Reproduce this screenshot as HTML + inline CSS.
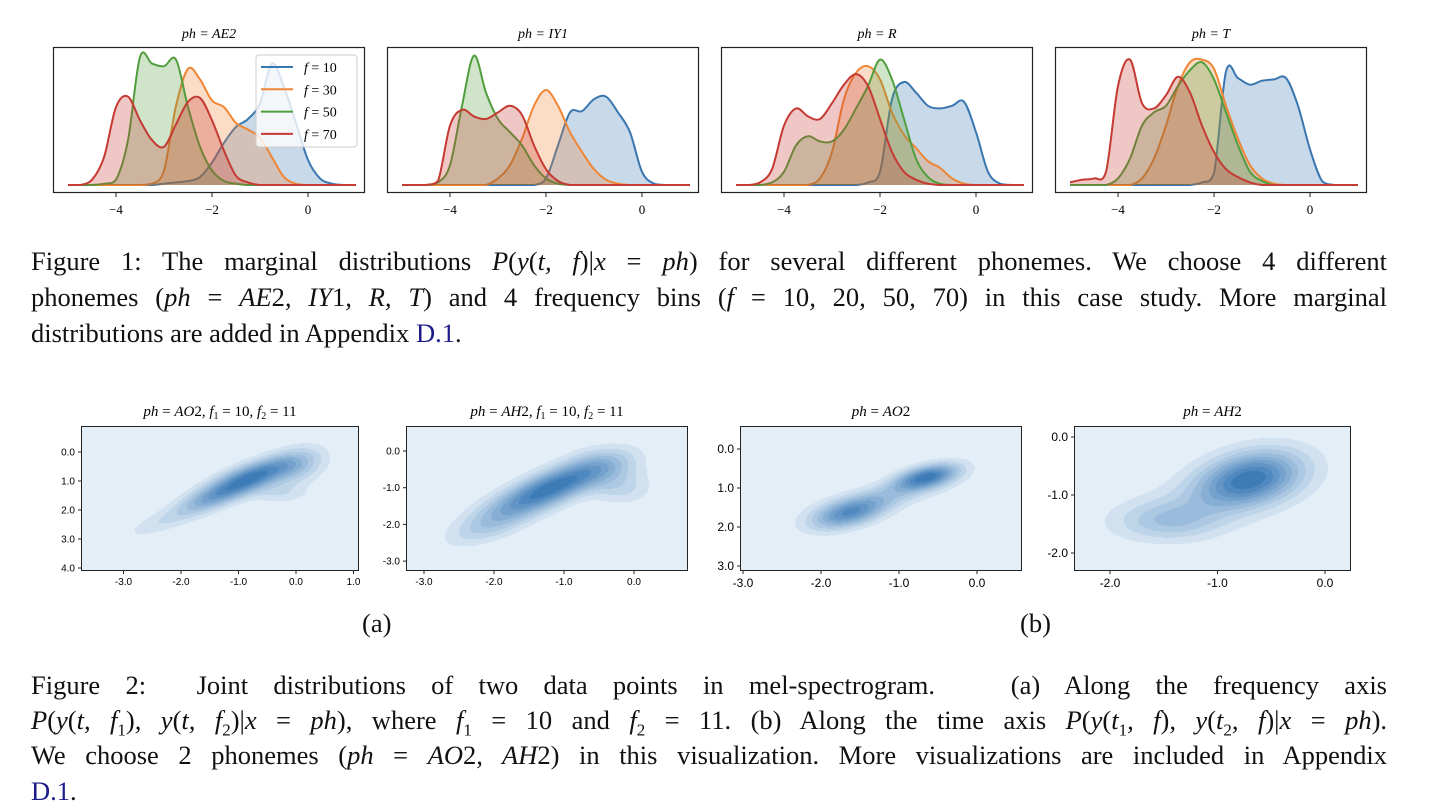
<!DOCTYPE html>
<html><head><meta charset="utf-8">
<style>
html,body{margin:0;padding:0;background:#fff;}
body{width:1430px;height:810px;position:relative;overflow:hidden;font-family:"Liberation Serif",serif;color:#111;}
.cap{position:absolute;left:31px;width:1356px;font-size:26.5px;line-height:30px;white-space:nowrap;}
.j{text-align:justify;text-align-last:justify;white-space:normal;}
.lnk{color:#1a1a8a;}
canvas{position:absolute;}
svg{position:absolute;left:0;top:0;}
sub{font-size:17px;line-height:0;}
</style></head><body>
<canvas id="cva1"></canvas>
<canvas id="cva2"></canvas>
<canvas id="cvb1"></canvas>
<canvas id="cvb2"></canvas>
<svg id="svg" width="1430" height="810"></svg>

<div class="cap j" style="top:246px">Figure 1: The marginal distributions <i>P</i>(<i>y</i>(<i>t, f</i>)|<i>x</i> = <i>ph</i>) for several different phonemes. We choose 4 different</div>
<div class="cap j" style="top:282px">phonemes (<i>ph</i> = <i>AE</i>2<i>, IY</i>1<i>, R, T</i>) and 4 frequency bins (<i>f</i> = 10<i>,</i> 20<i>,</i> 50<i>,</i> 70) in this case study. More marginal</div>
<div class="cap" style="top:318px">distributions are added in Appendix <span class="lnk">D.1</span>.</div>

<div class="cap" style="top:608px;left:362px;width:40px">(a)</div>
<div class="cap" style="top:608px;left:1020px;width:40px">(b)</div>

<div class="cap j" style="top:670px">Figure 2: &nbsp;Joint distributions of two data points in mel-spectrogram. &nbsp;&nbsp;(a) Along the frequency axis</div>
<div class="cap j" style="top:705px"><i>P</i>(<i>y</i>(<i>t, f</i><sub>1</sub>)<i>, y</i>(<i>t, f</i><sub>2</sub>)|<i>x</i> = <i>ph</i>), where <i>f</i><sub>1</sub> = 10 and <i>f</i><sub>2</sub> = 11. (b) Along the time axis <i>P</i>(<i>y</i>(<i>t</i><sub>1</sub><i>, f</i>)<i>, y</i>(<i>t</i><sub>2</sub><i>, f</i>)|<i>x</i> = <i>ph</i>).</div>
<div class="cap j" style="top:740px">We choose 2 phonemes (<i>ph</i> = <i>AO</i>2<i>, AH</i>2) in this visualization. More visualizations are included in Appendix</div>
<div class="cap" style="top:776px"><span class="lnk">D.1</span>.</div>

<script>
// ---------- Figure 1 data ----------
const xGrid = [-5,-4.75,-4.5,-4.25,-4,-3.75,-3.5,-3.25,-3,-2.75,-2.5,-2.25,-2,-1.75,-1.5,-1.25,-1,-0.75,-0.5,-0.25,0,0.25,0.5,0.75,1];
const xTicksTop = [-4,-2,0];
const xTickLabelsTop = ["\u22124","\u22122","0"];
const phonemes = ["AE2","IY1","R","T"];
const freqLabels = ["10","30","50","70"];
const ae2_f10 = [0,0,0,0,0,0,0,0,0.01,0.02,0.03,0.06,0.17,0.32,0.44,0.5,0.62,0.92,0.74,0.47,0.19,0.05,0.01,0,0];
const ae2_f30 = [0,0,0,0,0,0,0,0.01,0.11,0.6,0.88,0.8,0.64,0.59,0.47,0.42,0.36,0.21,0.06,0.01,0,0,0,0,0];
const ae2_f50 = [0,0,0,0.01,0.04,0.34,0.97,0.92,0.9,0.95,0.59,0.29,0.11,0.03,0.01,0,0,0,0,0,0,0,0,0,0];
const ae2_f70 = [0,0,0.04,0.21,0.59,0.67,0.49,0.34,0.29,0.46,0.63,0.66,0.49,0.26,0.07,0.02,0,0,0,0,0,0,0,0,0];
const iy1_f10 = [0,0,0,0,0,0,0,0,0,0,0,0,0.05,0.3,0.55,0.56,0.65,0.67,0.55,0.4,0.1,0.01,0,0,0];
const iy1_f30 = [0,0,0,0,0,0,0,0,0.05,0.15,0.35,0.6,0.72,0.6,0.4,0.25,0.12,0.04,0.01,0,0,0,0,0,0];
const iy1_f50 = [0,0,0,0.02,0.15,0.6,0.98,0.7,0.5,0.4,0.3,0.15,0.05,0.01,0,0,0,0,0,0,0,0,0,0,0];
const iy1_f70 = [0,0,0,0.03,0.45,0.57,0.52,0.5,0.55,0.6,0.53,0.3,0.12,0.03,0,0,0,0,0,0,0,0,0,0,0];
const r_f10 = [0,0,0,0,0,0,0,0,0,0,0,0.02,0.1,0.65,0.78,0.7,0.6,0.58,0.6,0.63,0.4,0.1,0.01,0,0];
const r_f30 = [0,0,0,0,0,0,0,0.05,0.25,0.65,0.85,0.9,0.8,0.55,0.38,0.28,0.18,0.13,0.05,0.01,0,0,0,0,0];
const r_f50 = [0,0,0,0.02,0.1,0.3,0.37,0.33,0.33,0.42,0.58,0.75,0.95,0.8,0.5,0.2,0.06,0.01,0,0,0,0,0,0,0];
const r_f70 = [0,0,0.02,0.12,0.45,0.58,0.52,0.5,0.62,0.76,0.84,0.75,0.5,0.25,0.1,0.04,0.01,0,0,0,0,0,0,0,0];
const t_f10 = [0,0,0,0,0,0,0,0,0,0,0,0.02,0.09,0.86,0.81,0.76,0.79,0.8,0.81,0.6,0.27,0.03,0,0,0];
const t_f30 = [0,0,0,0,0,0,0.05,0.2,0.45,0.75,0.93,0.95,0.88,0.6,0.35,0.15,0.05,0.01,0,0,0,0,0,0,0];
const t_f50 = [0,0,0,0,0.05,0.2,0.45,0.55,0.6,0.75,0.87,0.93,0.8,0.55,0.3,0.1,0.03,0,0,0,0,0,0,0,0];
const t_f70 = [0.02,0.04,0.05,0.1,0.75,0.95,0.62,0.58,0.68,0.82,0.7,0.45,0.25,0.12,0.06,0.02,0,0,0,0,0,0,0,0,0];
const panelSeries = [[ae2_f10,ae2_f30,ae2_f50,ae2_f70],[iy1_f10,iy1_f30,iy1_f50,iy1_f70],[r_f10,r_f30,r_f50,r_f70],[t_f10,t_f30,t_f50,t_f70]];

// ---------- Figure 2 data (gaussian-mixture components: cx, cy, sx, sy, rho, weight) ----------
const compA1 = [[-0.75,0.8,0.5,0.45,-0.7,1.0],[-1.4,1.5,0.45,0.4,-0.7,0.6],[-2.2,2.3,0.55,0.45,-0.8,0.22],[0.0,0.5,0.35,0.45,-0.3,0.4],[-0.3,1.4,0.35,0.25,0,0.2]];
const compA2 = [[-1.0,-0.8,0.5,0.45,0.7,1.0],[-1.6,-1.4,0.5,0.45,0.7,0.7],[-2.1,-2.1,0.4,0.35,0.6,0.3],[-0.2,-1.0,0.3,0.3,0,0.3],[-0.4,-0.4,0.35,0.35,0,0.3]];
const compB1 = [[-0.65,0.7,0.28,0.23,-0.5,1.0],[-1.65,1.65,0.33,0.28,-0.5,0.8],[-1.2,1.2,0.55,0.33,-0.7,0.3]];
const compB2 = [[-0.7,-0.7,0.33,0.33,0.3,1.0],[-1.45,-1.45,0.33,0.23,0,0.35],[-1.1,-1.1,0.55,0.38,0.5,0.2]];
const ticksA1x = [-3,-2,-1,0,1], ticksA1y = [0,1,2,3,4];
const ticksA2x = [-3,-2,-1,0], ticksA2y = [0,-1,-2,-3];
const ticksB1x = [-3,-2,-1,0], ticksB1y = [0,1,2,3];
const ticksB2x = [-2,-1,0], ticksB2y = [0,-1,-2];

const NS="http://www.w3.org/2000/svg";
const svg=document.getElementById('svg');
function mk(tag,attrs,parent){const e=document.createElementNS(NS,tag);for(const k in attrs)e.setAttribute(k,attrs[k]);(parent||svg).appendChild(e);return e;}

const colors=["#3a76af","#ef8636","#519e3e","#c53a32"];
function splinePath(pts){
  let d="M"+pts[0][0]+","+pts[0][1];
  for(let i=0;i<pts.length-1;i++){
    const p0=pts[Math.max(0,i-1)],p1=pts[i],p2=pts[i+1],p3=pts[Math.min(pts.length-1,i+2)];
    const c1x=p1[0]+(p2[0]-p0[0])/6,c1y=p1[1]+(p2[1]-p0[1])/6;
    const c2x=p2[0]-(p3[0]-p1[0])/6,c2y=p2[1]-(p3[1]-p1[1])/6;
    d+=" C"+c1x.toFixed(1)+","+Math.min(185,c1y).toFixed(1)+" "+c2x.toFixed(1)+","+Math.min(185,c2y).toFixed(1)+" "+p2[0].toFixed(1)+","+p2[1].toFixed(1);
  }
  return d;
}
for(let p=0;p<4;p++){
  const off=p*334;
  const xS=v=>308+off+48*v;
  const yS=v=>185-132*v;
  const g=mk('g',{});
  
  
  const t=mk('text',{x:209+off,y:38,'text-anchor':'middle','font-size':14,'font-family':'Liberation Serif, serif','font-style':'italic'},g);
  t.textContent="ph = "+phonemes[p];
  
  
  panelSeries[p].forEach((vals,si)=>{
    const pts=xGrid.map((x,i)=>[xS(x),yS(vals[i])]);
    const line=splinePath(pts);
    const fill=mk('path',{d:line+" L"+pts[pts.length-1][0]+",185 L"+pts[0][0]+",185 Z",fill:colors[si],'fill-opacity':0.28,stroke:'none'},g);
    
    
    const ln=mk('path',{d:line,fill:'none',stroke:colors[si],'stroke-width':2},g);
    
    
  });
  const box=mk('rect',{x:53.5+off,y:47.5,width:311,height:145,fill:'none',stroke:'#222','stroke-width':1.2},g);
  
  
  xTicksTop.forEach((v,i)=>{
    mk('line',{x1:xS(v),x2:xS(v),y1:193,y2:197,stroke:'#222','stroke-width':1},g);
    const tl=mk('text',{x:xS(v),y:214,'text-anchor':'middle','font-size':13,'font-family':'Liberation Serif, serif'},g);
    tl.textContent=xTickLabelsTop[i];
    
    
  });
}
const lg=mk('g',{});


mk('rect',{x:256,y:55,width:101,height:92,rx:3,fill:'#fff','fill-opacity':0.8,stroke:'#ccc','stroke-width':1},lg);
freqLabels.forEach((f,i)=>{
  const y=67+i*22.3;
  const e=mk('g',{},lg);
  
  
  mk('line',{x1:261,x2:293,y1:y,y2:y,stroke:colors[i],'stroke-width':2},e);
  const t=mk('text',{x:304,y:y+5,'font-size':14,'font-family':'Liberation Serif, serif'},e);
  t.innerHTML='<tspan font-style="italic">f</tspan> = '+f;
});

function levelColor(l){const a=[227,238,247],b=[62,124,184];const t=l/9;return [a[0]+(b[0]-a[0])*t,a[1]+(b[1]-a[1])*t,a[2]+(b[2]-a[2])*t];}
function densityPanel(o){
  const cv=document.getElementById(o.id);
  cv.style.left=o.l+'px';cv.style.top=o.t+'px';cv.width=o.w;cv.height=o.h;
  const ctx=cv.getContext('2d');const img=ctx.createImageData(o.w,o.h);
  const vals=new Float32Array(o.w*o.h);let mx=0;
  for(let py=0;py<o.h;py++)for(let px=0;px<o.w;px++){
    const x=(o.l+px-o.x0)/o.xs, y=(o.t+py-o.y0)/o.ys;
    let d=0;
    for(const c of o.comps){const dx=(x-c[0])/c[2],dy=(y-c[1])/c[3],r=c[4];
      d+=c[5]*Math.exp(-(dx*dx-2*r*dx*dy+dy*dy)/(2*(1-r*r)));}
    vals[py*o.w+px]=d;if(d>mx)mx=d;
  }
  for(let i=0;i<vals.length;i++){
    const l=Math.min(9,Math.floor(vals[i]/mx*10));const c=levelColor(l);
    img.data[i*4]=c[0];img.data[i*4+1]=c[1];img.data[i*4+2]=c[2];img.data[i*4+3]=255;
  }
  ctx.putImageData(img,0,0);
  const g=mk('g',{});
  
  
  const fr=mk('rect',{x:o.l-0.5,y:o.t-0.5,width:o.w+1,height:o.h+1,fill:'none',stroke:'#222','stroke-width':1},g);
  
  
  const fs=o.fs;
  o.tx.forEach(v=>{const X=o.x0+o.xs*v;
    mk('line',{x1:X,x2:X,y1:o.t+o.h,y2:o.t+o.h+4,stroke:'#222'},g);
    const t=mk('text',{x:X,y:o.t+o.h+fs+5,'text-anchor':'middle','font-size':fs,'font-family':'Liberation Sans Narrow, Liberation Sans, sans-serif'},g);
    t.textContent=v.toFixed(1);
    
    });
  o.ty.forEach(v=>{const Y=o.y0+o.ys*v;
    mk('line',{x1:o.l-4,x2:o.l,y1:Y,y2:Y,stroke:'#222'},g);
    const t=mk('text',{x:o.l-7,y:Y+fs*0.35,'text-anchor':'end','font-size':fs,'font-family':'Liberation Sans Narrow, Liberation Sans, sans-serif'},g);
    t.textContent=v.toFixed(1);
    
    });
  const tt=mk('text',{x:o.l+o.w/2,y:o.t-11,'text-anchor':'middle','font-size':15,'font-family':'Liberation Serif, serif'},g);
  tt.innerHTML=o.title;
  
  
}
const sub1='<tspan font-style="italic">ph</tspan> = <tspan font-style="italic">';
densityPanel({id:'cva1',name:'joint-panel-a1',l:82,t:427,w:276,h:143,x0:296,xs:57.5,y0:452,ys:29,comps:compA1,tx:ticksA1x,ty:ticksA1y,fs:10,
  title:sub1+'AO</tspan>2, <tspan font-style="italic">f</tspan><tspan font-size="10" dy="3">1</tspan><tspan dy="-3"> = 10, </tspan><tspan font-style="italic">f</tspan><tspan font-size="10" dy="3">2</tspan><tspan dy="-3"> = 11</tspan>'});
densityPanel({id:'cva2',name:'joint-panel-a2',l:407,t:427,w:280,h:143,x0:634,xs:70,y0:451,ys:-36.7,comps:compA2,tx:ticksA2x,ty:ticksA2y,fs:10,
  title:sub1+'AH</tspan>2, <tspan font-style="italic">f</tspan><tspan font-size="10" dy="3">1</tspan><tspan dy="-3"> = 10, </tspan><tspan font-style="italic">f</tspan><tspan font-size="10" dy="3">2</tspan><tspan dy="-3"> = 11</tspan>'});
densityPanel({id:'cvb1',name:'joint-panel-b1',l:741,t:427,w:280,h:143,x0:977,xs:78,y0:449,ys:39,comps:compB1,tx:ticksB1x,ty:ticksB1y,fs:12,
  title:sub1+'AO</tspan>2'});
densityPanel({id:'cvb2',name:'joint-panel-b2',l:1075,t:427,w:275,h:143,x0:1325,xs:107.5,y0:437,ys:-58,comps:compB2,tx:ticksB2x,ty:ticksB2y,fs:12,
  title:sub1+'AH</tspan>2'});
</script>
</body></html>
